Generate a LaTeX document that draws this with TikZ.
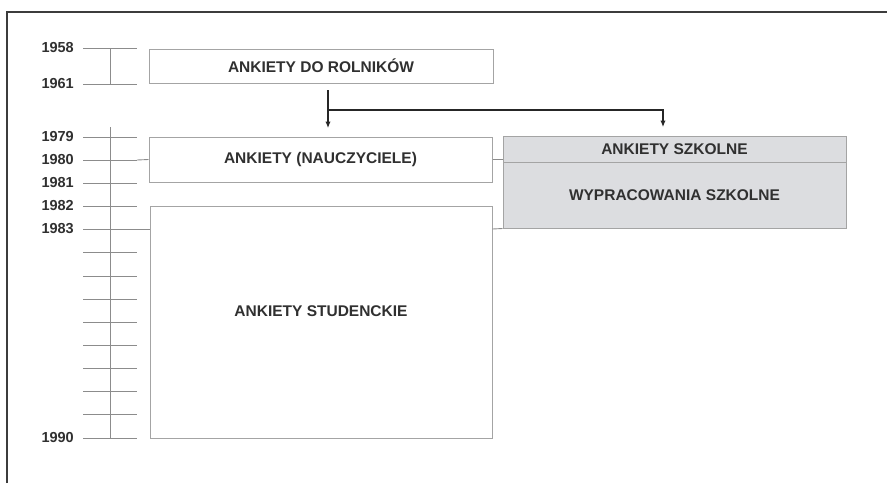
\documentclass[tikz,border=0pt]{standalone}
\usepackage{fontspec}
\setmainfont{Liberation Sans}
\usetikzlibrary{arrows.meta}

\definecolor{framegray}{HTML}{3C3C3C}
\definecolor{linegray}{HTML}{A4A4A4}
\definecolor{tickgray}{HTML}{8C8C8C}
\definecolor{boxfill}{HTML}{DCDDE0}
\definecolor{txt}{HTML}{303030}

\tikzset{
  year/.style={anchor=east, inner sep=0pt, text=txt,
    font=\fontsize{14.5}{17}\selectfont\bfseries},
  box/.style={draw=linegray, line width=1pt, fill=white, inner sep=0pt,
    text=txt, font=\fontsize{15.5}{18}\selectfont\bfseries},
  greybox/.style={box, fill=boxfill},
  tick/.style={draw=tickgray, line width=0.9pt},
  link/.style={draw=black!85, line width=1.2pt, -{Latex[length=6.5pt,width=5.5pt]}},
}

\begin{document}
\begin{tikzpicture}[x=1pt, y=-1pt]
  \useasboundingbox (0,0) rectangle (887,483);
  \draw[framegray, line width=2pt] (7,483) -- (7,12) -- (887,12);

  % time axis
  \draw[tick] (110,48) -- (110,84);
  \draw[tick] (110,127) -- (110,438);
  \foreach \yr/\ypos in {1958/48, 1961/84, 1979/137, 1980/160, 1981/183,
                         1982/206, 1983/229, 1990/438} {
    \node[year] (y\yr) at (74,\ypos) {\yr};
    \draw[tick] ([xshift=9pt]y\yr.east) -- ++(54,0);
  }
  \foreach \ypos in {252,276,299,322,345,368,391,414}
    \draw[tick] (83,\ypos) -- (137,\ypos);

  % boxes
  \node[box, minimum width=344, minimum height=34] (rol) at (321,66) {ANKIETY DO ROLNIKÓW};
  \node[box, minimum width=343, minimum height=45] (nau) at (320.5,159.5) {ANKIETY (NAUCZYCIELE)};
  \node[box, minimum width=342, minimum height=232] (stu) at (321,322) {};
  \node[text=txt, font=\fontsize{15.5}{18}\selectfont\bfseries] (stutext)
    at ([yshift=11pt]stu.center) {ANKIETY STUDENCKIE};
  \node[greybox, minimum width=343, minimum height=26] (szk) at (674.5,149) {ANKIETY SZKOLNE};
  \node[greybox, minimum width=343, minimum height=66] (wyp) at (674.5,195) {WYPRACOWANIA SZKOLNE};

  % links to the axis
  \draw[tick] ([xshift=63pt]y1980.east) -- (nau.west);
  \draw[tick] ([xshift=63pt]y1983.east) -- (y1983.east -| stu.west);
  \draw[tick] (nau.east) -- (nau.east -| szk.west);
  \draw[tick] (stu.east |- y1983.east) -- (wyp.south west);

  % arrows
  \coordinate (src) at (328,90);
  \coordinate (fork) at (328,110);
  \coordinate (tipL) at (328,128);
  \coordinate (tipR) at (663,127);
  \draw[link] (src) -- (tipL);
  \draw[link] (fork) -| (tipR);
\end{tikzpicture}
\end{document}
